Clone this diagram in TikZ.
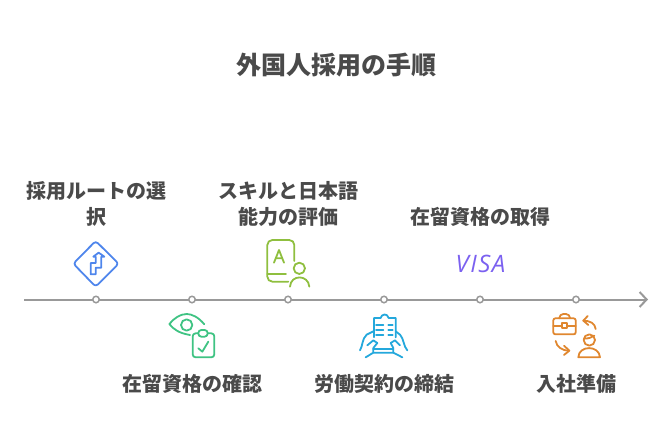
\documentclass[tikz,border=0pt]{standalone}
\usepackage{fontspec}
\setmainfont{Noto Sans CJK JP}
\newfontfamily\visafont[LetterSpace=6]{Open Sans}
\usetikzlibrary{arrows.meta}
\definecolor{txt}{HTML}{4A4A4A}
\definecolor{axisc}{HTML}{999999}
\definecolor{cblue}{HTML}{4F86EC}
\definecolor{cgreen}{HTML}{3FC383}
\definecolor{clime}{HTML}{8FBF3F}
\definecolor{ccyan}{HTML}{24A8DC}
\definecolor{corange}{HTML}{E0872F}
\definecolor{cpurple}{HTML}{7B61F0}
\tikzset{
  x=1pt,y=-1pt,
  lbl/.style={text=txt,font=\fontsize{20}{26}\selectfont\bfseries,align=center,inner sep=0pt},
  ttl/.style={text=txt,font=\fontsize{25}{30}\selectfont\bfseries,inner sep=0pt},
  dot/.style={circle,draw=axisc,fill=white,line width=1.5pt,minimum size=6.5pt,inner sep=0pt},
  axisline/.style={draw=axisc,line width=2pt},
  icon/.style={line width=1.8pt,line cap=round,line join=round,x=0.3333pt,y=-0.3333pt},
}
\begin{document}
\begin{tikzpicture}
\useasboundingbox (0,0) rectangle (672,444);
\node[ttl] (title) at (336,65) {外国人採用の手順};
\coordinate (axstart) at (24,299.5);
\coordinate (axend) at (648,299.5);
\draw[axisline,-{Straight Barb[length=7pt,width=15pt,line width=2pt]}] (axstart) -- (axend);
\foreach \n/\x in {a/96,b/192,c/288,d/384,e/480,f/576}
  \node[dot] (\n) at (\x,299.5) {};
\node[lbl] (la) at (96,204) {採用ルートの選\\択};
\node[lbl] (lc) at (288,204) {スキルと日本語\\能力の評価};
\node[lbl] (le) at (480,217) {在留資格の取得};
\node[lbl] (lb) at (192,384) {在留資格の確認};
\node[lbl] (ld) at (384,384) {労働契約の締結};
\node[lbl] (lf) at (576,384) {入社準備};
% road sign
\begin{scope}[shift={(60,230)},icon,draw=cblue]
\draw[rounded corners=3pt] (107,33) -- (176,101) -- (107,170) -- (40,101) -- cycle;
\draw (92,133) -- (92,99) -- (107,99) -- (107,80) -- (100,80) -- (116,68) -- (133,80) -- (124,80) -- (124,113) -- (107,113) -- (107,133) -- cycle;
\end{scope}
% eye and clipboard
\begin{scope}[shift={(160,305)},icon,draw=cgreen]
\draw (133,58) .. controls (115,36) and (95,27) .. (80,27) .. controls (60,27) and (42,40) .. (28,57) .. controls (40,72) and (55,84) .. (90,90);
\draw (80,60) circle[radius=17];
\draw[rounded corners=3pt] (115,85) -- (98,85) -- (98,157) -- (163,157) -- (163,85) -- (143,85);
\draw[rounded corners=3pt] (115,75) rectangle (143,95);
\draw (115,130) -- (127,140) -- (145,110);
\end{scope}
% book and person
\begin{scope}[shift={(255,235)},icon,draw=clime]
\draw[rounded corners=5pt] (118,78) -- (118,15) -- (37,15) -- (37,140) -- (100,140);
\draw (37,117) -- (93,117);
\draw (57,83) -- (72,45) -- (87,83) (62,70) -- (82,70);
\draw (133,100) circle[radius=17];
\draw (105,155) .. controls (107,118) and (160,118) .. (163,155);
\end{scope}
% hands and document
\begin{scope}[shift={(350,308)},icon,draw=ccyan]
\draw (72,88) -- (72,30) -- (92,30) .. controls (94,18) and (112,14) .. (116,30) -- (137,30) -- (137,88);
\draw (70,122) -- (130,122);
\draw (78,50) -- (100,50) (115,50) -- (128,50) (78,65) -- (100,65) (115,65) -- (128,65) (78,80) -- (100,80) (115,80) -- (128,80);
\draw (30,127) .. controls (38,115) and (36,92) .. (50,80) -- (70,70);
\draw (52,112) -- (70,97) -- (82,105) -- (70,120) -- (70,132);
\draw (47,148) -- (70,134) -- (130,134);
\draw (172,127) .. controls (160,115) and (162,92) .. (150,80) -- (137,70);
\draw (150,112) -- (135,97) -- (122,105) -- (130,120) -- (130,134) -- (157,148);
\end{scope}
% visa
\node[text=cpurple,font=\visafont\itshape\fontsize{24}{24}\selectfont,inner sep=0pt] (visa) at (480.5,264) {VISA};
% briefcase and person
\begin{scope}[shift={(540,305)},icon,draw=corange]
\draw[rounded corners=2pt] (40,40) rectangle (107,88);
\draw[rounded corners=4pt] (58,40) -- (58,27) -- (90,27) -- (90,40);
\draw (40,62) -- (66,62) (80,62) -- (107,62);
\draw (66,55) rectangle (80,70);
\draw (167,72) .. controls (165,55) and (150,47) .. (130,47);
\draw (143,33) -- (130,47) -- (145,60);
\draw (47,108) .. controls (50,125) and (65,137) .. (88,137);
\draw (72,122) -- (88,137) -- (72,150);
\draw (148,105) circle[radius=17];
\draw (132,100) .. controls (145,102) and (155,97) .. (163,92);
\draw (115,157) .. controls (116,120) and (178,120) .. (180,157) -- cycle;
\end{scope}
\end{tikzpicture}
\end{document}
